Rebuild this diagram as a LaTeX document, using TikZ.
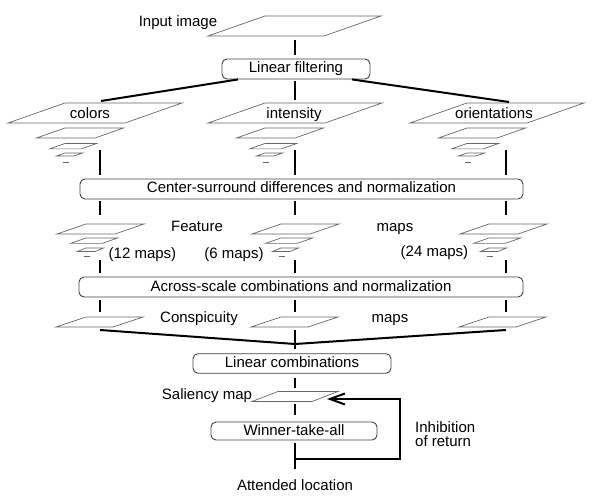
\documentclass[tikz,border=0pt]{standalone}
\usepackage{fontspec}
\setmainfont{Liberation Sans}
\usetikzlibrary{arrows.meta}
\tikzset{
  box/.style={draw=black!75, line width=0.9pt, rounded corners=5pt, minimum height=20pt, inner sep=0pt, text height=11pt, text depth=3pt},
  link/.style={line width=2pt},
  slab/.style={draw=black!60, line width=0.7pt},
  lbl/.style={inner sep=0pt, text height=11pt, text depth=3pt}
}
\newcommand{\slab}[5]{\draw[slab] (#1,#2) -- ++(#3,0) -- ++(-#4,#5) -- ++(-#3,0) -- cycle;}
\begin{document}
\begin{tikzpicture}[x=1pt,y=-1pt,font=\fontsize{15}{17}\selectfont]
\useasboundingbox (0,0) rectangle (592,497);
\slab{265}{16}{116}{57}{20}
\foreach \X in {65,265,467}{
  \slab{\X}{103}{117}{57}{20}
  \slab{\X}{128}{58.5}{28.5}{10}
  \slab{\X}{143.5}{31.6}{15.4}{5.4}
  \slab{\X}{153}{17.5}{8.5}{3}
  \draw[slab] (\X-2.5,162) -- ++(6,0);
}
\foreach \X in {86,281,489}{
  \slab{\X}{224}{58}{29}{10}
  \slab{\X}{238}{31.6}{15.4}{5.4}
  \slab{\X}{248}{17.5}{8.5}{3.5}
  \draw[slab] (\X-2.5,256) -- ++(6,0);
  \slab{\X}{317}{57}{30}{10}
}
\slab{278}{391.5}{60}{26}{10}

\node[box, minimum width=148pt] (filter) at (296,69) {Linear filtering};
\node[box, minimum width=443pt] (csd) at (301.5,189) {Center-surround differences and normalization};
\node[box, minimum width=444pt] (across) at (301,287) {Across-scale combinations and normalization};
\node[box, minimum width=198pt, minimum height=19.5pt] (lincomb) at (292,363.5) {Linear combinations};
\node[box, minimum width=166pt, minimum height=18pt] (wta) at (294,431) {Winner-take-all};

\node[lbl] (input) at (178,23) {Input image};
\node[lbl] (colors) at (90,115) {colors};
\node[lbl] (intensity) at (294,115) {intensity};
\node[lbl] (orient) at (494,115) {orientations};
\node[lbl] (feature) at (197,228) {Feature};
\node[lbl] (fmaps) at (395,228) {maps};
\node[lbl] (n12) at (142.5,255) {(12 maps)};
\node[lbl] (n6) at (234,255) {(6 maps)};
\node[lbl] (n24) at (434.5,253) {(24 maps)};
\node[lbl] (consp) at (199,318) {Conspicuity};
\node[lbl] (cmaps) at (390,318) {maps};
\node[lbl] (saliency) at (207,395) {Saliency map};
\node[lbl, anchor=west] (inhib) at (415,428) {Inhibition};
\node[lbl, anchor=west] (ret) at (415,442.5) {of return};
\node[lbl] (attended) at (295,486) {Attended location};

\coordinate (in-b) at (295,40);
\coordinate (c1) at (101,101);
\coordinate (c2) at (295,100);
\coordinate (c3) at (509,102);
\foreach \x [count=\i] in {100,295,506}{
  \coordinate (pyr\i) at (\x,150);
  \coordinate (feat\i) at (\x,215);
  \coordinate (featb\i) at (\x,260);
  \coordinate (cons\i) at (\x,312);
  \coordinate (consb\i) at (\x,330);
}
\coordinate (merge) at (295,344);
\coordinate (sal-t) at (295,388);
\coordinate (sal-b) at (295,404);
\coordinate (att) at (295,469);
\coordinate (tap) at (295,459);
\coordinate (turn) at (400,399);
\coordinate (sal-r) at (327,399);

\draw[link, shorten >=4pt] (in-b) -- (in-b |- filter.north);
\draw[link] ([xshift=-58pt]filter.south) -- (c1);
\draw[link, shorten <=2pt] (filter.south -| c2) -- (c2);
\draw[link] ([xshift=56pt]filter.south) -- (c3);
\foreach \i in {1,2,3}{
  \draw[link, shorten >=4pt] (pyr\i) -- (pyr\i |- csd.north);
  \draw[link, shorten <=2pt] (pyr\i |- csd.south) -- (feat\i);
  \draw[link, shorten >=4pt] (featb\i) -- (featb\i |- across.north);
  \draw[link, shorten <=3pt] (featb\i |- across.south) -- (cons\i);
}
\draw[link] (consb1) -- (merge) -- (consb3);
\draw[link, shorten >=4pt] (consb2) -- (consb2 |- lincomb.north);
\draw[link, shorten <=4pt] (lincomb.south -| sal-t) -- (sal-t);
\draw[link, shorten >=7pt] (sal-b) -- (sal-b |- wta.north);
\draw[link, shorten <=3pt] (wta.south -| att) -- (att);
\draw[link, -{Straight Barb[length=15pt,width=11pt]}] (tap) -| (turn) -- (sal-r);
%\draw[slab] (0,0) rectangle (592,497);
\end{tikzpicture}
\end{document}
